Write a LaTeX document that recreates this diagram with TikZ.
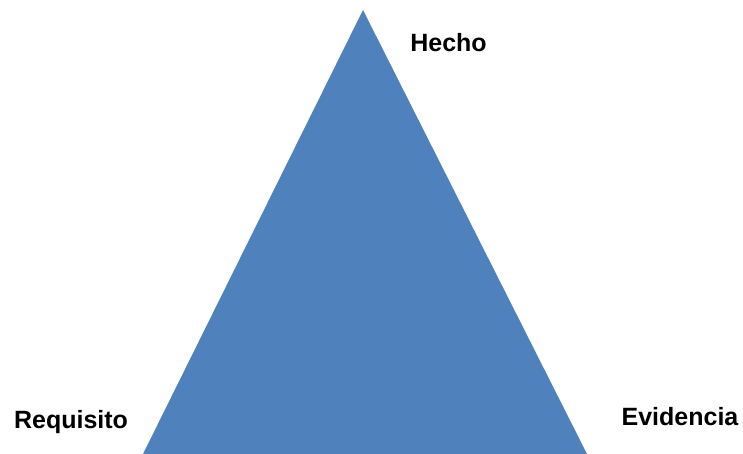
\documentclass[tikz,border=0pt]{standalone}
\usepackage{fontspec}
\setmainfont{Liberation Sans}
\definecolor{triblue}{HTML}{4F81BD}
\begin{document}
\begin{tikzpicture}[x=1pt,y=-1pt,
  lbl/.style={font=\fontsize{25}{30}\selectfont\bfseries, text=black, inner sep=0pt, anchor=base}]
\useasboundingbox (0,0) rectangle (743,454);
\coordinate (top) at (363,10);
\coordinate (bl) at (143,454);
\coordinate (br) at (587,454);
\fill[triblue] (top) -- (br) -- (bl) -- cycle;
\node[lbl] (hecho) at (448.5,52) {Hecho};
\node[lbl] (req) at (71,428) {Requisito};
\node[lbl] (evid) at (680,425.5) {Evidencia};
\end{tikzpicture}
\end{document}
